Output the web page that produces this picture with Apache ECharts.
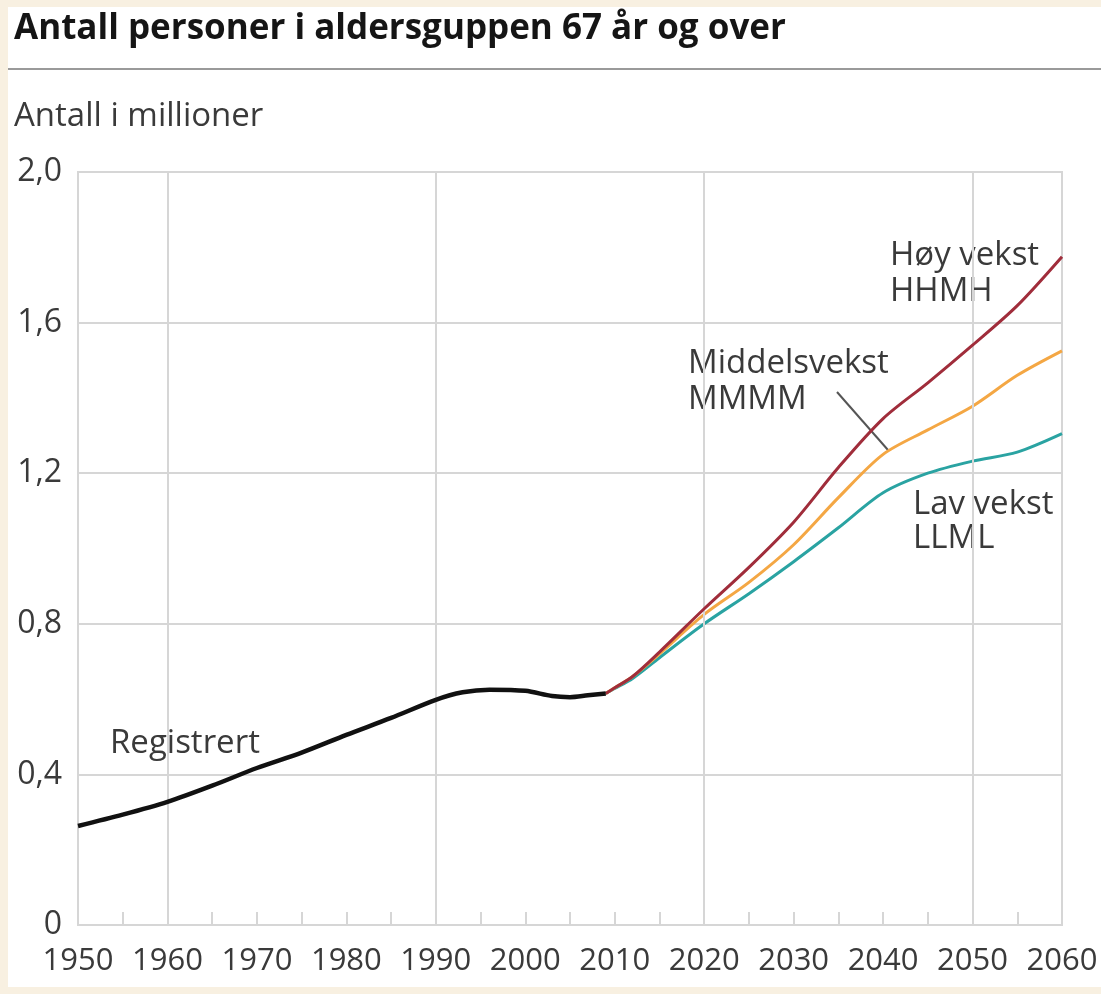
<!DOCTYPE html>
<html>
<head>
<meta charset="utf-8">
<script src="https://cdn.jsdelivr.net/npm/echarts@6/dist/echarts.min.js"></script>
<style>
  html, body { margin: 0; padding: 0; background: #f8f0e1; }
  #chart { position: absolute; left: 8px; top: 7px; width: 1093px; height: 980px; background: #fff; }
</style>
</head>
<body>
<div id="chart"></div>
<script>
// registrert (historical)
const regYears = [1950, 1955, 1960, 1965, 1970, 1975, 1980, 1985, 1990, 1993, 1996, 2000, 2003, 2005, 2007, 2009];
const regValues = [0.263, 0.293, 0.327, 0.37, 0.417, 0.458, 0.505, 0.55, 0.598, 0.618, 0.625, 0.622, 0.608, 0.605, 0.61, 0.615];

// projections
const projYears = [2009, 2010, 2012, 2015, 2020, 2025, 2030, 2035, 2040, 2045, 2050, 2055, 2060];
const hoyValues = [0.615, 0.63, 0.66, 0.725, 0.84, 0.95, 1.07, 1.215, 1.345, 1.44, 1.54, 1.645, 1.775];
const middelValues = [0.615, 0.63, 0.66, 0.72, 0.825, 0.91, 1.01, 1.135, 1.25, 1.315, 1.378, 1.46, 1.525];
const lavValues = [0.615, 0.628, 0.655, 0.71, 0.8, 0.88, 0.965, 1.055, 1.148, 1.2, 1.232, 1.256, 1.305];

// vertical gridlines in the original are only every 30 years
const vGridYears = [1960, 1990, 2020, 2050];

const zip = (xs, ys) => xs.map((x, i) => [x, ys[i]]);
const FONT = "'Open Sans', 'Noto Sans', sans-serif";
const GRID = "#d6d6d6";
const TXT = "#3a3a3a";

const myChart = echarts.init(document.getElementById("chart"));

function lineSeries(name, data, color, width, z) {
  return {
    name: name,
    type: "line",
    data: data,
    smooth: 0.3,
    symbol: "none",
    z: z,
    lineStyle: { color: color, width: width },
    emphasis: { disabled: true },
  };
}

myChart.setOption({
  animation: false,
  textStyle: { fontFamily: FONT },
  grid: {
    left: 70,
    right: 39,
    top: 165,
    bottom: 62,
    show: true,
    borderColor: GRID,
    borderWidth: 2,
  },
  xAxis: {
    type: "value",
    min: 1950,
    max: 2060,
    interval: 5,
    axisLine: { show: true, lineStyle: { color: GRID, width: 2 } },
    axisTick: { show: true, inside: true, length: 13, lineStyle: { color: GRID, width: 2 } },
    splitLine: { show: false },
    axisLabel: {
      color: TXT,
      fontSize: 31,
      margin: 21,
      showMinLabel: true,
      showMaxLabel: true,
      formatter: (v) => (v % 10 === 0 ? String(v) : ""),
    },
  },
  yAxis: {
    type: "value",
    min: 0,
    max: 2,
    interval: 0.4,
    axisLine: { show: true, lineStyle: { color: GRID, width: 2 } },
    axisTick: { show: false },
    splitLine: { show: true, lineStyle: { color: GRID, width: 2 } },
    axisLabel: {
      color: TXT,
      fontSize: 32,
      margin: 16,
      formatter: (v) => (v === 0 ? "0" : v.toFixed(1).replace(".", ",")),
    },
  },
  series: [
    {
      type: "line",
      data: [],
      silent: true,
      markLine: {
        silent: true,
        symbol: "none",
        label: { show: false },
        lineStyle: { color: GRID, width: 2, type: "solid" },
        data: vGridYears.map((y) => ({ xAxis: y })),
      },
    },
    lineSeries("Lav vekst", zip(projYears, lavValues), "#2aa3a2", 3, 3),
    lineSeries("Middelsvekst", zip(projYears, middelValues), "#f4a744", 3, 4),
    lineSeries("Høy vekst", zip(projYears, hoyValues), "#a02d3b", 3, 5),
    lineSeries("Registrert", zip(regYears, regValues), "#111111", 4.5, 6),
  ],
  graphic: [
    {
      type: "text",
      left: 6,
      top: 5,
      style: {
        text: "Antall personer i aldersguppen 67 år og over",
        font: "bold 35px " + FONT,
        fill: "#151515",
      },
    },
    {
      type: "line",
      shape: { x1: 0, y1: 62, x2: 1093, y2: 62 },
      style: { stroke: "#9a9a9a", lineWidth: 2 },
    },
    {
      type: "text",
      left: 6,
      top: 93,
      style: { text: "Antall i millioner", font: "33px " + FONT, fill: TXT },
    },
    {
      type: "text",
      left: 882,
      top: 231,
      style: { text: "Høy vekst\nHHMH", font: "33px " + FONT, fill: TXT, lineHeight: 36 },
    },
    {
      type: "text",
      left: 680,
      top: 339,
      style: { text: "Middelsvekst\nMMMM", font: "33px " + FONT, fill: TXT, lineHeight: 36 },
    },
    {
      type: "line",
      shape: { x1: 829, y1: 385, x2: 880, y2: 443 },
      style: { stroke: "#555", lineWidth: 2 },
    },
    {
      type: "text",
      left: 905,
      top: 481,
      style: { text: "Lav vekst\nLLML", font: "33px " + FONT, fill: TXT, lineHeight: 34 },
    },
    {
      type: "text",
      left: 102,
      top: 720,
      style: { text: "Registrert", font: "33px " + FONT, fill: TXT },
    },
  ],
});
</script>
</body>
</html>
